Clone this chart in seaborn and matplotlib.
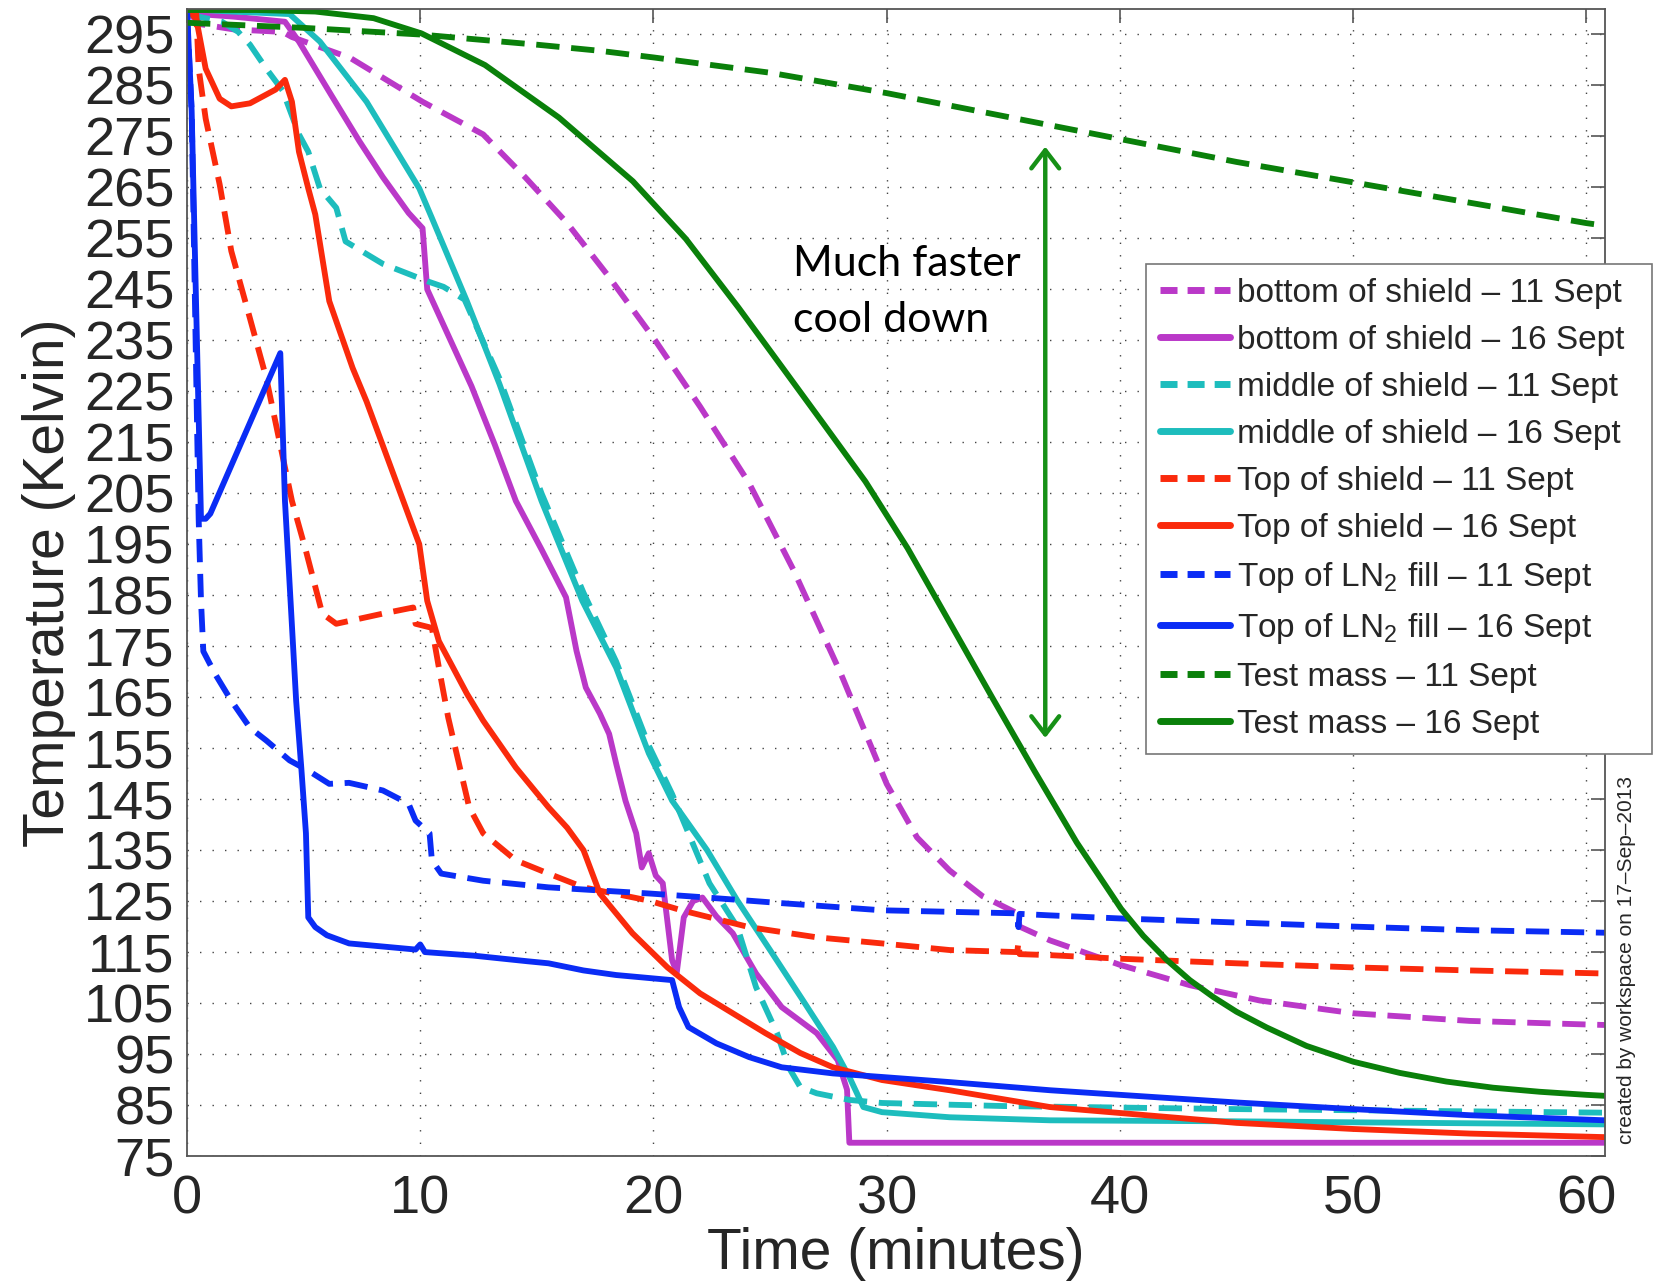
import numpy as np
import pandas as pd
import matplotlib
matplotlib.use("Agg")
import matplotlib.pyplot as plt
import seaborn as sns

# ---------------- data ----------------
labels = [
    "bottom of shield – 11 Sept", "bottom of shield – 16 Sept",
    "middle of shield – 11 Sept", "middle of shield – 16 Sept",
    "Top of shield – 11 Sept", "Top of shield – 16 Sept",
    "Top of LN$_2$ fill – 11 Sept", "Top of LN$_2$ fill – 16 Sept",
    "Test mass – 11 Sept", "Test mass – 16 Sept",
]

t_bot11 = [0, 0.6, 2, 4.1, 4.5, 7.0, 10.1, 12.7, 14.5, 16.3, 18, 20, 22, 24.1, 26, 28, 30.0,
           31.3, 32.7, 34.1, 35.6, 35.7, 37.0, 40, 43, 46, 50, 55, 60, 60.8]
y_bot11 = [299.5, 297, 296, 295.5, 294.5, 290.4, 281.8, 275.4, 267, 258, 248, 235.5, 222, 207, 190, 170, 148,
           137.5, 131, 126, 122.6, 120, 117.3, 112.5, 108.5, 105.5, 103, 101.5, 100.8, 100.7]

t_bot16 = [0, 0.5, 2, 4.2, 4.8, 6.2, 7.4, 8.4, 9.5, 10.1, 10.3, 11.2, 12.2, 13.2, 14.1, 15.2, 16.25,
           16.7, 17.1, 17.7, 18.1, 18.4, 18.8, 19.26, 19.5, 19.8, 20.1, 20.4, 20.8, 21.0, 21.3, 21.7,
           22.1, 22.7, 23.4, 24.4, 25.5, 27.0, 27.9, 28.3, 28.4, 35, 45, 60.8]
y_bot16 = [300, 299, 298.5, 297.5, 293.6, 283, 274, 267, 260, 257, 245, 236, 226, 214.5, 203.5, 194, 184.6,
           174.1, 166.9, 161.8, 157.8, 152, 144.7, 138.3, 131.6, 134.4, 130, 128.5, 113.4, 111, 121.8, 125,
           125.7, 122, 118.7, 110.8, 104.2, 99.1, 93.8, 88, 77.6, 77.6, 77.6, 77.6]

t_mid11 = [0, 1.5, 2.2, 2.7, 3.4, 4.1, 4.8, 5.2, 5.7, 6.4, 6.8, 8.4, 10.3, 11.0, 11.9, 13.4, 15.2, 17,
           18.4, 19.8, 20.8, 22.4, 23.6, 24.4, 25.3, 25.8, 26.3, 27.0, 28.4, 29.8, 35, 45, 60.8]
y_mid11 = [299, 297.5, 295.5, 293, 288.3, 284, 275.4, 272, 264.8, 261, 254.4, 250, 246.6, 245.5, 243, 227.5, 205, 185.5,
           172, 155.5, 146, 128.5, 119.9, 108.1, 99.1, 92.4, 88.5, 87.3, 86, 85.4, 84.8, 84.2, 83.5]

t_mid16 = [0, 1.9, 4.4, 5.7, 7.7, 9.96, 10.5, 12.0, 13.4, 15.2, 16.95, 18.4, 19.8, 20.8, 22.3, 23.6,
           25.0, 26.4, 27.7, 28.4, 29.0, 29.8, 32.7, 37.0, 45, 60.8]
y_mid16 = [300, 299.5, 299, 293.6, 281.8, 264.8, 259, 242.7, 226.4, 203.5, 183.9, 170.8, 154, 144.7, 135, 125.1,
           115.4, 105.6, 96.4, 90.5, 84.6, 83.6, 82.6, 82.0, 81.8, 81.2]

t_top11 = [0, 0.4, 0.5, 0.8, 1.4, 1.9, 2.7, 3.4, 4.5, 5.1, 5.8, 6.4, 8.4, 9.7, 9.8, 10.5, 10.8, 11.2, 11.7,
           12.1, 12.7, 14.1, 15.5, 17.0, 19.8, 21.2, 24.1, 27.0, 29.8, 32.7, 35.6, 35.65, 35.7, 37, 40, 45, 50, 55, 60.8]
y_top11 = [300, 298.9, 288.3, 278.5, 265.6, 252.5, 239.3, 227.6, 203.5, 193.7, 181.4, 179.4, 181.4, 182.6, 179.4,
           178.6, 170.8, 161, 151.2, 143.4, 138.3, 133, 130.4, 127.7, 125.1, 123.2, 119.9, 117.9, 116.7, 115.4,
           115, 117, 114.6, 114.4, 113.7, 112.8, 112, 111.4, 110.8]

t_top16 = [0, 0.4, 0.8, 1.4, 1.9, 2.7, 3.8, 4.2, 4.5, 4.8, 5.2, 5.5, 6.1, 7.1, 7.7, 9.96, 10.3, 10.8, 12.0,
           12.7, 14.1, 15.5, 16.3, 17.0, 17.7, 19.1, 20.6, 22.0, 23.4, 24.8, 26.3, 27.7, 29.8, 32.7, 37.0,
           45, 50, 55, 60.8]
y_top16 = [300, 298, 288.3, 282.4, 280.9, 281.5, 284.2, 286.1, 281.8, 272, 264.8, 259.7, 242.7, 229.6, 223,
           195, 183.9, 176, 165.7, 160.4, 151.2, 143.4, 139.4, 135, 126.5, 118.7, 112, 106.9, 103, 99.1, 95.2,
           92.4, 89.9, 87.9, 84.6, 81.5, 80.3, 79.4, 78.7]

t_ln11 = [0, 0.2, 0.35, 0.5, 0.6, 0.7, 1.2, 1.9, 2.7, 3.4, 4.4, 5.2, 6.1, 6.95, 8.4, 9.5, 9.8, 10.4, 10.5,
          10.9, 12.7, 15.5, 19.8, 22.0, 25.5, 29.8, 35.6, 35.65, 35.7, 37, 40, 45, 50, 55, 60.8]
y_ln11 = [299, 280, 240, 200, 184, 174, 169.6, 164.3, 159, 156.5, 152.6, 150.6, 148, 148.2, 146.7, 144.1,
          140.8, 138.3, 133, 130.4, 129, 127.7, 126.5, 125.8, 124.6, 123.2, 122.6, 119.9, 122.5, 122.2,
          121.6, 120.8, 120, 119.3, 118.8]

t_ln16 = [0, 0.2, 0.4, 0.6, 0.8, 1.0, 4.0, 4.2, 4.68, 4.9, 5.1, 5.2, 5.5, 6.0, 6.95, 9.8, 10.0, 10.2, 12.3,
          14.6, 15.5, 17.0, 18.4, 20.8, 21.1, 21.5, 22.7, 24.1, 25.5, 27.7, 29.8, 32.7, 37.0, 40, 45, 50, 55, 60.8]
y_ln16 = [300, 280, 240, 200, 200, 201, 232.5, 203.5, 164.3, 151.2, 138.3, 121.8, 119.9, 118.3, 116.7, 115.5,
          116.5, 115, 114.3, 113.2, 112.8, 111.4, 110.5, 109.5, 104.2, 100.3, 97.1, 94.4, 92.4, 91.2, 90.5, 89.5,
          87.9, 87.0, 85.5, 84.2, 83.0, 82.0]

t_tm11 = [0, 5, 10, 15, 17.7, 20, 25, 30, 35, 40, 45, 50, 55, 60, 60.8]
y_tm11 = [297.3, 296.3, 295, 293, 291.8, 290.5, 287.5, 283.5, 279, 274.5, 270, 266, 262, 258, 257.5]

t_tm16 = [0, 3, 5.5, 8.0, 10.06, 12.78, 15.95, 19.12, 21.39, 23.65, 25.46, 27.28, 29.09, 30.9, 32.71,
          34.53, 36.34, 38.15, 40.05, 41, 42, 43, 44, 45, 46.3, 48, 50, 52, 54, 56, 58, 60, 60.8]
y_tm16 = [299.8, 299.8, 299.5, 298.2, 295.2, 289.0, 278.7, 266.2, 254.9, 241.4, 230.1, 218.7, 207.3, 194.2,
          179.6, 164.9, 150.5, 136.5, 123.5, 118.2, 113.5, 109.5, 106.2, 103.3, 100.2, 96.6, 93.5, 91.3,
          89.6, 88.4, 87.6, 87.0, 86.8]

series_t = [t_bot11, t_bot16, t_mid11, t_mid16, t_top11, t_top16, t_ln11, t_ln16, t_tm11, t_tm16]
series_y = [y_bot11, y_bot16, y_mid11, y_mid16, y_top11, y_top16, y_ln11, y_ln16, y_tm11, y_tm16]

y_ticks = list(range(75, 300, 10))
x_ticks = [0, 10, 20, 30, 40, 50, 60]

# ---------------- styling ----------------
colors = ["#BA38C8", "#BA38C8", "#1DBDBD", "#1DBDBD", "#FA2A0C", "#FA2A0C",
          "#0A2CF5", "#0A2CF5", "#0A800A", "#0A800A"]
dashed = [True, False] * 5

sns.set_theme(style="white")
plt.rcParams["font.family"] = ["Liberation Sans", "DejaVu Sans"]
plt.rcParams["mathtext.fontset"] = "custom"
plt.rcParams["mathtext.rm"] = "Liberation Sans"
plt.rcParams["mathtext.it"] = "Liberation Sans:italic"

fig = plt.figure(figsize=(16.55, 12.83), dpi=100)
ax = fig.add_axes([187 / 1655, 1 - 1156 / 1283, (1605 - 187) / 1655, (1156 - 9) / 1283])

handles = []
for t, y, c, d, lab in zip(series_t, series_y, colors, dashed, labels):
    df = pd.DataFrame({"t": t, "y": y})
    n0 = len(ax.lines)
    sns.lineplot(data=df, x="t", y="y", ax=ax, color=c, lw=4.2,
                 linestyle=(0, (4.0, 2.0)) if d else "-",
                 estimator=None, sort=False, legend=False)
    ln = ax.lines[n0]
    if d:
        ln.set_dash_capstyle("butt")
    handles.append(ln)

ax.set_xlim(0, 60.8)
ax.set_ylim(75, 300)
ax.set_xticks(x_ticks)
ax.set_yticks(y_ticks)
ax.tick_params(axis="both", which="both", direction="in", length=10, width=1.2,
               color="#555555", labelsize=39, top=True, right=True)
ax.tick_params(axis="x", pad=13)
ax.tick_params(axis="y", pad=9)
ax.grid(True, color="#444444", linestyle=(0, (1, 8)), linewidth=1.0)
for sp in ax.spines.values():
    sp.set_color("#555555")
    sp.set_linewidth(1.3)

ax.set_xlabel("Time (minutes)", fontsize=41, labelpad=2)
ax.set_ylabel("Temperature (Kelvin)", fontsize=41, labelpad=6)

# annotation
ax.annotate("", xy=(36.8, 157), xytext=(36.8, 273),
            arrowprops=dict(arrowstyle="<->,head_length=0.65,head_width=0.5",
                            color="#169016", lw=3.2, mutation_scale=20, shrinkA=0, shrinkB=0))
ax.text(26.0, 244.5, "Much faster\ncool down", fontsize=31, family=["Lato", "DejaVu Sans"],
        ha="left", va="center", linespacing=1.6, color="black")

x0 = 1146 / 1655
leg = fig.legend(handles, labels, loc="upper left",
                 bbox_to_anchor=(x0, 1 - 265 / 1283, 1652 / 1655 - x0, 0.001),
                 bbox_transform=fig.transFigure, mode="expand",
                 fontsize=24, frameon=True, fancybox=False, framealpha=1, edgecolor="#777777",
                 handlelength=2.1, handletextpad=0.2, labelspacing=0.48, borderpad=0.42,
                 borderaxespad=0)
leg.get_frame().set_linewidth(1.2)
for lh, d in zip(leg.get_lines(), dashed):
    lh.set_linewidth(5.0)
    if d:
        lh.set_dashes((2.45, 1.45))
        lh.set_dash_capstyle("butt")

fig.text(1626 / 1655, 1 - 960 / 1283, "created by workspace on 17–Sep–2013", rotation=90,
         fontsize=15, ha="center", va="center")

fig.savefig("out.png", dpi=100)
